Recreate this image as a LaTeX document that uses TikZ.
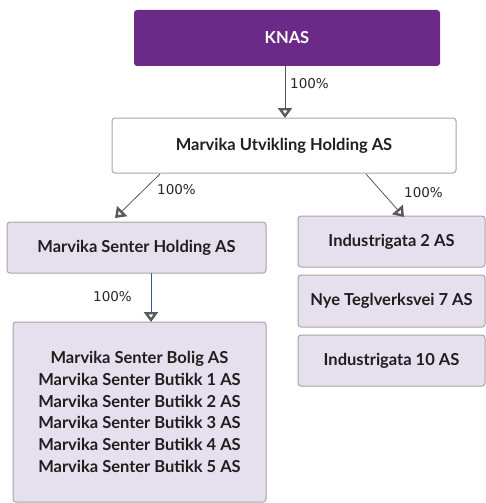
\documentclass[tikz,border=0pt]{standalone}
\usepackage{fontspec}
\setmainfont{Lato}
\newfontfamily\pctfont{DejaVu Sans}
\usetikzlibrary{arrows.meta}
\definecolor{kpurple}{HTML}{6B2A87}
\definecolor{klight}{HTML}{E6E0EE}
\definecolor{kborder}{HTML}{A6A6A6}
\definecolor{karrow}{HTML}{595959}
\definecolor{kblue}{HTML}{2E5C9E}
\begin{document}
\begin{tikzpicture}[x=1pt,y=-1pt,
  box/.style={draw=kborder,line width=1pt,rounded corners=3pt,fill=klight,inner sep=0pt,
    font=\bfseries\fontsize{16.5}{19}\selectfont,text=black!88},
  topbox/.style={rounded corners=3pt,fill=kpurple,inner sep=0pt,text=white,font=\bfseries\fontsize{16.5}{19}\selectfont},
  conn/.style={draw=karrow,line width=0.8pt,-{Triangle[open,length=10pt,width=14pt,line width=2.4pt]}},
  pct/.style={font=\pctfont\fontsize{13.5}{15}\selectfont,text=black!85,inner sep=0pt}]
\useasboundingbox (0,0) rectangle (486,503);
\node[topbox,minimum width=306pt,minimum height=56pt] (knas) at (287,38) {KNAS};
\node[box,fill=white,minimum width=344pt,minimum height=55pt] (muh) at (284,145.5) {Marvika Utvikling Holding AS};
\node[box,minimum width=259pt,minimum height=51pt] (msh) at (136.5,247.5) {Marvika Senter Holding AS};
\node[box,minimum width=187pt,minimum height=51pt] (i2) at (391.5,241.5) {Industrigata 2 AS};
\node[box,minimum width=187pt,minimum height=52pt] (nt) at (391.5,301) {Nye Teglverksvei 7 AS};
\node[box,minimum width=187pt,minimum height=51pt] (i10) at (391.5,360.5) {Industrigata 10 AS};
\node[box,minimum width=253pt,minimum height=180pt,align=center,
  font=\bfseries\fontsize{16.5}{21.8}\selectfont] (msb) at (139.5,412) {Marvika Senter Bolig AS\\Marvika Senter Butikk 1 AS\\Marvika Senter Butikk 2 AS\\Marvika Senter Butikk 3 AS\\Marvika Senter Butikk 4 AS\\Marvika Senter Butikk 5 AS};
\coordinate (a1) at (285,66);
\coordinate (a1e) at (285,118);
\draw[conn] (knas.south -| a1) -- (a1e);
\node[pct,anchor=west] (p1) at (290,84) {100\%};
\coordinate (b1) at (160,174);
\coordinate (b1e) at (115,218);
\draw[conn] (b1) -- (b1e);
\node[pct,anchor=west] (p2) at (157,190) {100\%};
\coordinate (c1) at (366,174);
\coordinate (c1e) at (404,217);
\draw[conn] (c1) -- (c1e);
\node[pct,anchor=west] (p3) at (404,193) {100\%};
\coordinate (d1) at (151,273);
\coordinate (d1e) at (151,322);
\draw[draw=kblue,line width=0.8pt] (d1) -- (151,312);
\draw[conn,draw=karrow] (151,312) -- (d1e);
\node[pct,anchor=west] (p4) at (93,297) {100\%};
\end{tikzpicture}
\end{document}
